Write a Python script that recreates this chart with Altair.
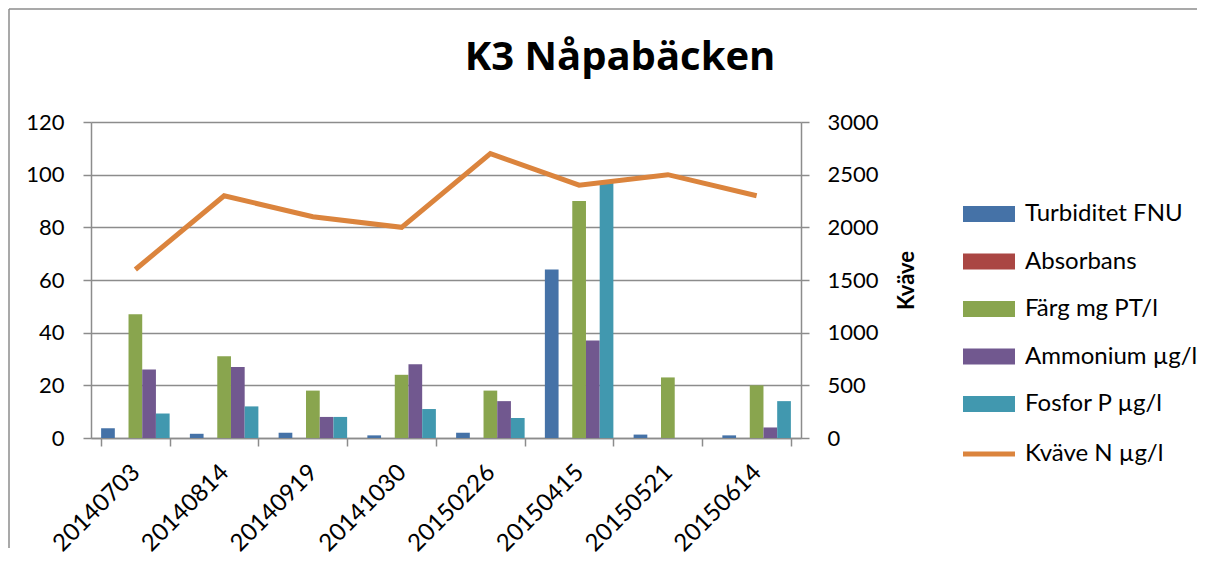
import altair as alt
import pandas as pd

# ---- data ----
dates = ["20140703", "20140814", "20140919", "20141030",
         "20150226", "20150415", "20150521", "20150614"]
series = ["Turbiditet FNU", "Absorbans", "Färg mg PT/l",
          "Ammonium µg/l", "Fosfor P µg/l"]
turbiditet = [3.7, 1.6, 2.0, 1.0, 2.0, 64, 1.3, 1.0]
absorbans = [0, 0, 0, 0, 0, 0, 0, 0]
farg = [47, 31, 18, 24, 18, 90, 23, 20]
ammonium = [26, 27, 8, 28, 14, 37, 0, 4]
fosfor = [9.3, 12, 8, 11, 7.6, 97, 0, 14]
kvave = [1600, 2300, 2100, 2000, 2700, 2400, 2500, 2300]
line_label = "Kväve N µg/l"

bar_colors = ["#4572A7", "#AA4643", "#89A54E", "#71588F", "#4198AF"]
line_color = "#DB843D"
grey = "#8C8C8C"
FONT = "Lato"

values_by_series = [turbiditet, absorbans, farg, ammonium, fosfor]
rows = []
for s, vals in zip(series, values_by_series):
    for d, v in zip(dates, vals):
        rows.append({"datum": d, "serie": s, "varde": v})
bar_df = pd.DataFrame(rows)
line_df = pd.DataFrame({"datum": dates, "kvave": kvave, "serie": [line_label] * len(dates)})

x_scale = alt.Scale(domain=dates, paddingInner=0.228, paddingOuter=0.114)
x_axis = alt.Axis(title=None, tickBand="extent", labelAngle=-45, labelAlign="right",
                  labelBaseline="top", labelOffset=-8, labelPadding=14, tickSize=8,
                  labelFontSize=24, labelColor="black", domainColor=grey, tickColor=grey,
                  domainWidth=1.5, tickWidth=1.5, grid=False)

rect_path = "M-3.25,-1H3.25V1H-3.25Z"
line_path = "M-3.25,0H3.25"

bars = alt.Chart(bar_df).mark_bar().encode(
    x=alt.X("datum:N", sort=dates, scale=x_scale, axis=x_axis),
    xOffset=alt.XOffset("serie:N", sort=series,
                        scale=alt.Scale(domain=series, paddingInner=0, paddingOuter=0)),
    y=alt.Y("varde:Q", scale=alt.Scale(domain=[0, 120], nice=False),
            axis=alt.Axis(title=None, values=[0, 20, 40, 60, 80, 100, 120], grid=True,
                          gridColor=grey, gridWidth=1.5, domainColor=grey, domainWidth=1.5,
                          tickColor=grey, tickWidth=1.5, tickSize=8, labelPadding=19,
                          labelFontSize=22, labelColor="black")),
    color=alt.Color("serie:N", sort=series,
                    scale=alt.Scale(domain=series, range=bar_colors),
                    legend=alt.Legend(title=None, orient="none", legendX=886, legendY=80,
                                      symbolType=rect_path, symbolSize=256,
                                      symbolStrokeWidth=0, labelOffset=24,
                                      labelFontSize=24, labelColor="black",
                                      labelLimit=400, rowPadding=23.5, padding=0)),
)

line = alt.Chart(line_df).mark_line(strokeWidth=5).encode(
    x=alt.X("datum:N", sort=dates, scale=x_scale, axis=x_axis),
    y=alt.Y("kvave:Q", scale=alt.Scale(domain=[0, 3000], nice=False),
            axis=alt.Axis(orient="right", title="Kväve", format="d",
                          values=[0, 500, 1000, 1500, 2000, 2500, 3000], grid=False,
                          domainColor=grey, domainWidth=1.5, tickColor=grey,
                          tickWidth=1.5, tickSize=8, labelPadding=18,
                          labelFontSize=22, labelColor="black",
                          titleFontSize=22, titleFontWeight="bold", titleColor="black",
                          titleAngle=270, titleX=105, titleY=158,
                          titleAlign="center", titleBaseline="middle")),
    stroke=alt.Stroke("serie:N", scale=alt.Scale(domain=[line_label], range=[line_color]),
                      legend=alt.Legend(title=None, orient="none", legendX=886, legendY=320,
                                        symbolType=line_path, symbolSize=256,
                                        symbolStrokeWidth=5, labelOffset=24,
                                        labelFontSize=24, labelColor="black",
                                        labelLimit=400, padding=0)),
)

frame_data = alt.Data(values=[{"k": 1}])
frame_left = alt.Chart(frame_data).mark_rule(color=grey, strokeWidth=1.5).encode(
    x=alt.value(-82), y=alt.value(-113), y2=alt.value(426))
frame_top = alt.Chart(frame_data).mark_rule(color=grey, strokeWidth=1.5).encode(
    x=alt.value(-82), x2=alt.value(1106), y=alt.value(-113))

chart = alt.layer(bars, line, frame_left, frame_top).resolve_scale(
    y="independent"
).properties(
    width=710, height=316, padding=0,
    title=alt.TitleParams("K3 Nåpabäcken", font="Open Sans", fontSize=40,
                          fontWeight="bold", color="black",
                          anchor="middle", frame="group", dx=174, baseline="alphabetic",
                          offset=-102)
).configure(font=FONT).configure_view(strokeWidth=0)

chart.save("out.html", embed_options={"renderer": "svg", "actions": False})
